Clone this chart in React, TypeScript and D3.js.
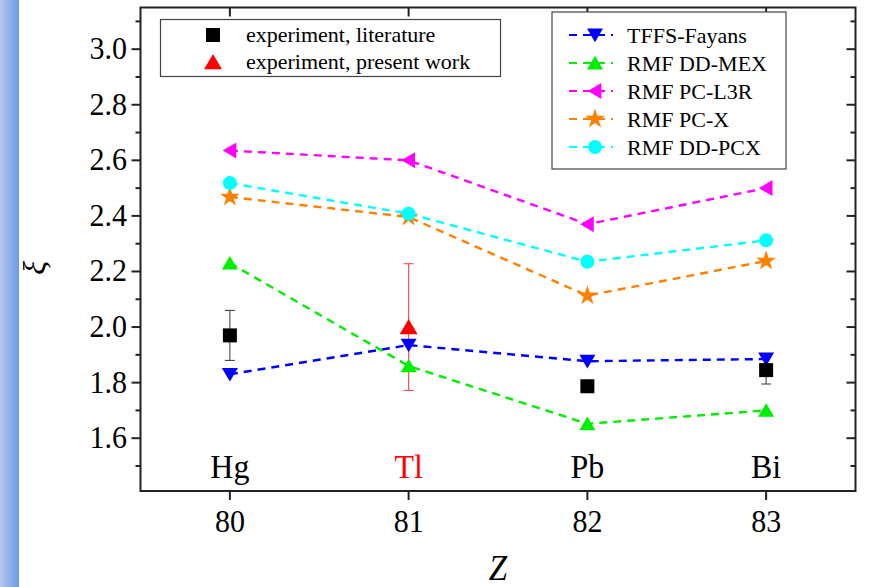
import React from "react";
import * as d3 from "d3";

const Z = [80, 81, 82, 83];
const elements = ["Hg", "Tl", "Pb", "Bi"];
const elementColors = ["#000000", "#ff0000", "#000000", "#000000"];

const tffs = [1.83, 1.935, 1.877, 1.885];
const ddmex = [2.23, 1.86, 1.652, 1.70];
const pcl3r = [2.635, 2.60, 2.37, 2.50];
const pcx = [2.468, 2.396, 2.113, 2.238];
const ddpcx = [2.518, 2.408, 2.235, 2.312];

const expLitZ = [80, 82, 83];
const expLitVal = [1.97, 1.787, 1.845];
const expLitErr = [0.09, 0, 0.05];

const expNowZ = [81];
const expNowVal = [2.0];
const expNowErr = [0.228];

const yMajor = [1.6, 1.8, 2.0, 2.2, 2.4, 2.6, 2.8, 3.0];
const yMinor = [1.5, 1.7, 1.9, 2.1, 2.3, 2.5, 2.7, 2.9, 3.1];

type Series = { name: string; values: number[]; color: string; marker: string };
const series: Series[] = [
  { name: "TFFS-Fayans", values: tffs, color: "#0000ff", marker: "down" },
  { name: "RMF DD-MEX", values: ddmex, color: "#00ee00", marker: "up" },
  { name: "RMF PC-L3R", values: pcl3r, color: "#ff00ff", marker: "left" },
  { name: "RMF PC-X", values: pcx, color: "#ff8000", marker: "star" },
  { name: "RMF DD-PCX", values: ddpcx, color: "#00ffff", marker: "circle" },
];

const W = 869;
const H = 587;
const x = d3.scaleLinear().domain([79.5, 83.5]).range([140.5, 855.5]);
const y = d3.scaleLinear().domain([1.41, 3.15]).range([491, 7.5]);

const FONT = "'Liberation Serif', 'Times New Roman', serif";

function markerPath(kind: string, s: number): string {
  if (kind === "down") return `M${-s},${-s * 0.8}L${s},${-s * 0.8}L0,${s * 0.9}Z`;
  if (kind === "up") return `M${-s},${s * 0.8}L${s},${s * 0.8}L0,${-s * 0.9}Z`;
  if (kind === "left") return `M${s * 0.8},${-s}L${s * 0.8},${s}L${-s * 0.9},0Z`;
  if (kind === "star") return d3.symbol(d3.symbolStar, s * s * 1.9)() || "";
  if (kind === "square") return `M${-s},${-s}L${s},${-s}L${s},${s}L${-s},${s}Z`;
  return d3.symbol(d3.symbolCircle, Math.PI * s * s)() || "";
}

function Marker({ kind, cx, cy, color, size }: { kind: string; cx: number; cy: number; color: string; size: number }) {
  return <path d={markerPath(kind, size)} transform={`translate(${cx},${cy})`} fill={color} />;
}

function SText(props: { x: number; y: number; k?: number; children: React.ReactNode; [key: string]: any }) {
  const { x: tx, y: ty, k = 1.08, children, ...rest } = props;
  return (
    <text transform={`translate(${tx},${ty}) scale(1,${k})`} {...rest}>
      {children}
    </text>
  );
}

export default function App() {
  const line = d3.line<number>().x((_, i) => x(Z[i])).y((v) => y(v));
  const left = x.range()[0];
  const right = x.range()[1];
  const top = y.range()[1];
  const bottom = y.range()[0];

  return (
    <svg width={W} height={H} style={{ position: "absolute", left: 0, top: 0, background: "#fff" }} fontFamily={FONT}>
      <defs>
        <linearGradient id="stripe" x1="0" x2="1" y1="0" y2="0">
          <stop offset="0" stopColor="#b4c8ee" />
          <stop offset="1" stopColor="#6c9be8" />
        </linearGradient>
      </defs>
      <rect x={0} y={0} width={19} height={H} fill="url(#stripe)" />

      {series.map((s) => (
        <path key={s.name} d={line(s.values) || ""} fill="none" stroke={s.color} strokeWidth={2.4} strokeDasharray="8,6" />
      ))}

      {expLitZ.map((z, i) =>
        expLitErr[i] > 0 ? (
          <g key={"el" + i} stroke="#333" strokeWidth={1}>
            <line x1={x(z)} x2={x(z)} y1={y(expLitVal[i] - expLitErr[i])} y2={y(expLitVal[i] + expLitErr[i])} />
            <line x1={x(z) - 5} x2={x(z) + 5} y1={y(expLitVal[i] - expLitErr[i])} y2={y(expLitVal[i] - expLitErr[i])} />
            <line x1={x(z) - 5} x2={x(z) + 5} y1={y(expLitVal[i] + expLitErr[i])} y2={y(expLitVal[i] + expLitErr[i])} />
          </g>
        ) : null
      )}
      {expNowZ.map((z, i) => (
        <g key={"en" + i} stroke="#ff5050" strokeWidth={1.2}>
          <line x1={x(z)} x2={x(z)} y1={y(expNowVal[i] - expNowErr[i])} y2={y(expNowVal[i] + expNowErr[i])} />
          <line x1={x(z) - 5} x2={x(z) + 5} y1={y(expNowVal[i] - expNowErr[i])} y2={y(expNowVal[i] - expNowErr[i])} />
          <line x1={x(z) - 5} x2={x(z) + 5} y1={y(expNowVal[i] + expNowErr[i])} y2={y(expNowVal[i] + expNowErr[i])} />
        </g>
      ))}

      {series.map((s) =>
        s.values.map((v, i) => (
          <Marker key={s.name + i} kind={s.marker} cx={x(Z[i])} cy={y(v)} color={s.color} size={s.marker === "circle" ? 7 : 8} />
        ))
      )}
      {expLitZ.map((z, i) => (
        <Marker key={"lm" + i} kind="square" cx={x(z)} cy={y(expLitVal[i])} color="#000" size={7} />
      ))}
      {expNowZ.map((z, i) => (
        <Marker key={"nm" + i} kind="up" cx={x(z)} cy={y(expNowVal[i])} color="#ff0000" size={9} />
      ))}

      {elements.map((e, i) => (
        <SText key={e} x={x(Z[i])} y={478} textAnchor="middle" fontSize={32} fill={elementColors[i]}>
          {e}
        </SText>
      ))}

      <rect x={left} y={top} width={right - left} height={bottom - top} fill="none" stroke="#222" strokeWidth={2} />

      {yMajor.map((v) => (
        <g key={"ym" + v} stroke="#222" strokeWidth={2}>
          <line x1={left - 9} x2={left} y1={y(v)} y2={y(v)} />
          <line x1={right - 9} x2={right} y1={y(v)} y2={y(v)} />
        </g>
      ))}
      {yMinor.map((v) => (
        <g key={"yn" + v} stroke="#222" strokeWidth={2}>
          <line x1={left - 5} x2={left} y1={y(v)} y2={y(v)} />
          <line x1={right - 5} x2={right} y1={y(v)} y2={y(v)} />
        </g>
      ))}
      {yMajor.map((v) => (
        <SText key={"yl" + v} x={127} y={y(v) + 10} textAnchor="end" fontSize={30} fill="#000">
          {v.toFixed(1)}
        </SText>
      ))}

      {Z.map((z) => (
        <g key={"xt" + z} stroke="#222" strokeWidth={2}>
          <line x1={x(z)} x2={x(z)} y1={bottom} y2={bottom + 9} />
          <line x1={x(z)} x2={x(z)} y1={top} y2={top + 9} />
        </g>
      ))}
      {Z.map((z) => (
        <SText key={"xl" + z} x={x(z)} y={532} textAnchor="middle" fontSize={30} fill="#000">
          {z}
        </SText>
      ))}

      <SText x={498} y={580} textAnchor="middle" fontSize={33} fontStyle="italic" fill="#000">
        Z
      </SText>
      <text transform="translate(45,268) rotate(-90)" textAnchor="middle" fontSize={32} fontStyle="italic" fill="#000">
        ξ
      </text>

      <rect x={160.5} y={19.5} width={340} height={57} fill="#fff" stroke="#444" strokeWidth={1.2} />
      <Marker kind="square" cx={213} cy={35} color="#000" size={7} />
      <text x={246} y={42} fontSize={22} fill="#000">experiment, literature</text>
      <Marker kind="up" cx={213} cy={62} color="#ff0000" size={9} />
      <text x={246} y={69} fontSize={22} fill="#000">experiment, present work</text>

      <rect x={552} y={12} width={234} height={157} fill="#fff" stroke="#444" strokeWidth={1.2} />
      {series.map((s, i) => {
        const cy = 35 + i * 28;
        return (
          <g key={"lg" + s.name}>
            <line x1={569} x2={613} y1={cy} y2={cy} stroke={s.color} strokeWidth={2.2} strokeDasharray="8,6" />
            <Marker kind={s.marker} cx={595} cy={cy} color={s.color} size={s.marker === "circle" ? 7 : 8} />
            <text x={627} y={cy + 8} fontSize={22} fill="#000">
              {s.name}
            </text>
          </g>
        );
      })}
    </svg>
  );
}
